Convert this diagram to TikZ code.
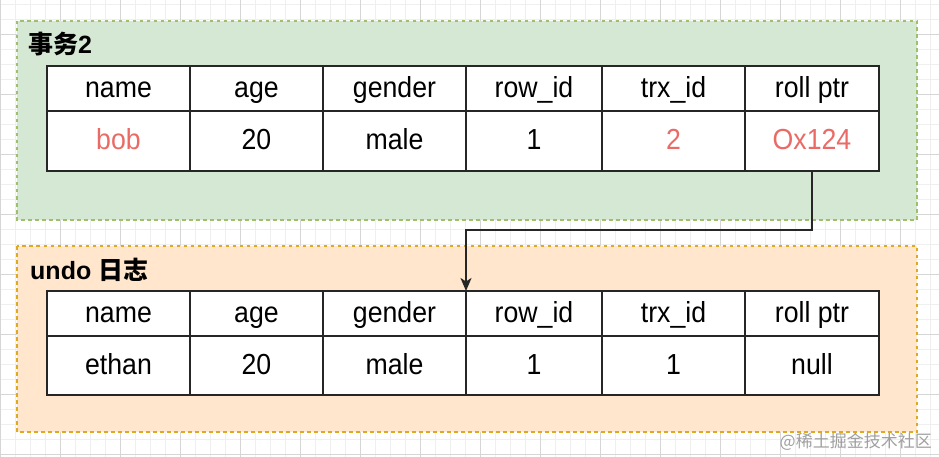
\documentclass[tikz,border=0pt]{standalone}
\usepackage{fontspec}
\setmainfont{Liberation Sans}
\newfontfamily\cellfont[FakeStretch=0.92]{Liberation Sans}
\newfontfamily\cjk{Noto Sans CJK SC}
\usetikzlibrary{arrows.meta}
\definecolor{gridlight}{HTML}{EFEFEF}
\definecolor{griddark}{HTML}{D6D6D6}
\definecolor{greenfill}{HTML}{D5E8D4}
\definecolor{greenline}{HTML}{9DBF6E}
\definecolor{orangefill}{HTML}{FFE6CC}
\definecolor{orangeline}{HTML}{DDAA22}
\definecolor{redtext}{HTML}{EA6B66}
\definecolor{wmark}{HTML}{A0A0A0}
\tikzset{
  cellbox/.style={draw=black!85, line width=1.5pt, fill=white, inner sep=0pt, outer sep=0pt,
    text height=20pt, text depth=2pt,
    font=\cellfont\fontsize{29}{29}\selectfont},
  groupbox/.style={line width=1.4pt, dash pattern=on 3.5pt off 3.5pt},
  titletext/.style={anchor=west, inner sep=0pt, font=\bfseries\fontsize{25}{25}\selectfont},
  link/.style={draw=black!85, line width=1.6pt, -{Stealth[length=13pt,width=11pt,inset=3.5pt]}},
  hl/.style={text=redtext}
}
\begin{document}
\begin{tikzpicture}[x=1pt,y=-1pt]
\useasboundingbox (0,0) rectangle (939,457);
\fill[white] (0,0) rectangle (939,457);
% grid
\foreach \x in {0,15,...,939} \draw[gridlight, line width=0.8pt] (\x,0) -- (\x,457);
\foreach \y in {4,19,...,457} \draw[gridlight, line width=0.8pt] (0,\y) -- (939,\y);
\foreach \x in {0,60,...,939} \draw[griddark, line width=0.8pt] (\x,0) -- (\x,457);
\foreach \y in {34,94,...,457} \draw[griddark, line width=0.8pt] (0,\y) -- (939,\y);
% group boxes
\draw[groupbox, fill=greenfill, draw=greenline] (17,21) rectangle (917,220);
\draw[groupbox, fill=orangefill, draw=orangeline] (17,246) rectangle (917,432);
\node[titletext] (t1title) at (28,44) {\cjk 事务\rmfamily 2};
\node[titletext] (t2title) at (30,270) {undo \cjk 日志};
% table 1
\foreach \i/\a/\b/\h/\d/\s in {
  1/47/190/name/bob/hl,
  2/190/323/age/20/,
  3/323/466/gender/male/,
  4/466/602/row\_id/1/,
  5/602/745/trx\_id/2/hl,
  6/745/879/roll ptr/Ox124/hl}{
  \node[cellbox, minimum width={\b-\a}, minimum height=45] (t1h\i) at ({(\a+\b)/2},88.5) {\h};
  \node[cellbox, minimum width={\b-\a}, minimum height=60, \s] (t1d\i) at ({(\a+\b)/2},141) {\d};
}
% table 2
\foreach \i/\a/\b/\h/\d in {
  1/47/190/name/ethan,
  2/190/323/age/20,
  3/323/466/gender/male,
  4/466/602/row\_id/1,
  5/602/745/trx\_id/1,
  6/745/879/roll ptr/null}{
  \node[cellbox, minimum width={\b-\a}, minimum height=45] (t2h\i) at ({(\a+\b)/2},313.5) {\h};
  \node[cellbox, minimum width={\b-\a}, minimum height=59] (t2d\i) at ({(\a+\b)/2},365.5) {\d};
}
% connector
\coordinate (elbow) at (466,230);
\draw[link] (t1d6.south) |- (elbow) -- (t2h4.north west);
% watermark
\node[anchor=east, inner sep=0pt, text=wmark, font=\cjk\fontsize{17}{17}\selectfont] (wm) at (932,442) {@稀土掘金技术社区};
\end{tikzpicture}
\end{document}
